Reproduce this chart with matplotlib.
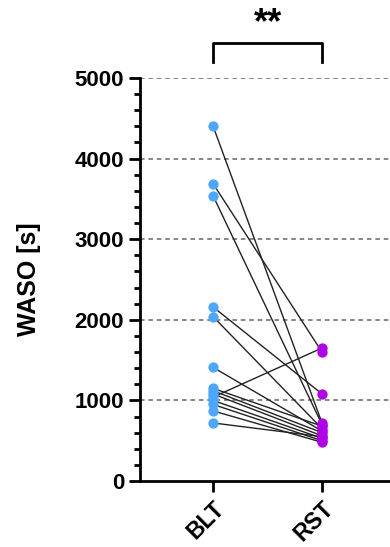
import matplotlib
matplotlib.use("Agg")
import matplotlib.pyplot as plt
from matplotlib.ticker import MultipleLocator
from matplotlib.transforms import ScaledTranslation

plt.rcParams["font.family"] = ["Liberation Sans", "DejaVu Sans"]
plt.rcParams["font.weight"] = "bold"

groups = ["BLT", "RST"]
blt = [4404, 3690, 3540, 2160, 2040, 1410, 1150, 1120, 1080, 1040, 1000, 950, 870, 720]
rst = [720, 1600, 700, 1080, 650, 620, 680, 600, 560, 1650, 530, 500, 480, 550]
yticks = [0, 1000, 2000, 3000, 4000, 5000]
colors = ["#4da6ff", "#b000e6"]

fig = plt.figure(figsize=(3.9, 5.47), dpi=100)
ax = fig.add_axes([0.359, 0.1207, 0.641, 0.7367])

for a, b in zip(blt, rst):
    ax.plot([0, 1], [a, b], color="#222222", lw=1.0, zorder=2)

ax.plot([0] * len(blt), blt, "o", color=colors[0], ms=7.4, mec="none", zorder=3)
ax.plot([1] * len(rst), rst, "o", color=colors[1], ms=7.4, mec="none", zorder=3)

ax.set_xlim(-0.67, 1.624)
ax.set_ylim(0, 5000)
ax.set_yticks(yticks)
ax.set_yticklabels([str(t) for t in yticks], fontsize=16, fontweight="bold")
ax.yaxis.set_minor_locator(MultipleLocator(200))
ax.set_xticks([0, 1])
ax.set_xticklabels(groups, fontsize=16.5, fontweight="bold", rotation=45,
                   ha="right", va="top", rotation_mode="anchor")
shift = ScaledTranslation(-7 / 100, -6 / 100, fig.dpi_scale_trans)
for lab in ax.get_xticklabels():
    lab.set_transform(lab.get_transform() + shift)
ax.set_ylabel("WASO [s]", fontsize=18, fontweight="bold", labelpad=24)

for t in yticks[1:]:
    ax.axhline(t, color="#666666", lw=1.1, ls=(0, (3, 2.5)), zorder=1)

for s in ["top", "right"]:
    ax.spines[s].set_visible(False)
for s in ["left", "bottom"]:
    ax.spines[s].set_linewidth(2)
ax.tick_params(axis="both", which="major", direction="out", length=8, width=2, pad=3.5)
ax.tick_params(axis="y", which="minor", direction="out", length=4.5, width=2)

# significance bracket
ax.plot([0, 0, 1, 1], [5200, 5435, 5435, 5200], color="black", lw=2, clip_on=False)
ax.text(0.5, 5560, "**", ha="center", va="baseline", fontsize=26, fontweight="bold")

fig.savefig("out.png", dpi=100)
